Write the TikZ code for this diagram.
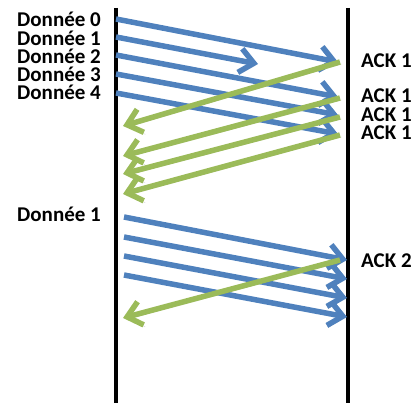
\documentclass[tikz,border=0pt]{standalone}
\usepackage{fontspec}
\setmainfont{Carlito}
\usetikzlibrary{arrows.meta}

\definecolor{dataBlue}{HTML}{4F81BD}
\definecolor{ackGreen}{HTML}{9BBB59}

\begin{document}
\begin{tikzpicture}[x=1pt, y=-1pt,
	tag/.style={font=\fontsize{21}{18.3}\selectfont\bfseries, inner sep=0pt},
	msg/.style={line width=5.5pt, arrows={-Straight Barb[length=14pt,width=24pt]},
		preaction={draw=black, opacity=0.15, transform canvas={shift={(1.5pt,-2pt)}}}},
	data/.style={msg, draw=dataBlue},
	ack/.style={msg, draw=ackGreen}]
	\useasboundingbox (0,0) rectangle (412,403);

	% sender and receiver
	\coordinate (S top) at (116,8);
	\coordinate (S bot) at (116,403);
	\coordinate (R top) at (348,8);
	\coordinate (R bot) at (348,403);
	\draw[line width=4pt] (S top) -- (S bot);
	\draw[line width=4pt] (R top) -- (R bot);

	% base anchor sits on the last line
	\node[tag, align=right, anchor=base east] (window) at (101,100)
		{Donnée 0\\Donnée 1\\Donnée 2\\Donnée 3\\Donnée 4};
	\node[tag, anchor=base east] (resend) at (101,222) {Donnée 1};

	\node[tag, anchor=base west] (A1) at (361,68) {ACK 1};
	\node[tag, align=left, anchor=base west] (dupacks) at (361,139.5)
		{ACK 1\\ACK 1\\ACK 1};
	\node[tag, anchor=base west] (A2) at (361,268) {ACK 2};

	% first window
	\coordinate (s0) at (116,19);  \coordinate (r0) at (338,62);
	\coordinate (s1) at (116,37);  \coordinate (lost) at (258,64);
	\coordinate (s2) at (116,55);  \coordinate (r2) at (338,97);
	\coordinate (s3) at (116,74);  \coordinate (r3) at (338,115);
	\coordinate (s4) at (116,93);  \coordinate (r4) at (338,134);

	\draw[data] (s0) -- (r0);
	\draw[data] (s1) -- (lost);
	\draw[data] (s2) -- (r2);
	\draw[data] (s3) -- (r3);
	\draw[data] (s4) -- (r4);

	\coordinate (a0) at (340,62);   \coordinate (b0) at (123,126);
	\coordinate (a2) at (340,98);   \coordinate (b2) at (123,156);
	\coordinate (a3) at (340,117);  \coordinate (b3) at (123,174);
	\coordinate (a4) at (340,135);  \coordinate (b4) at (123,194);

	\draw[ack] (a0) -- (b0);
	\draw[ack] (a2) -- (b2);
	\draw[ack] (a3) -- (b3);
	\draw[ack] (a4) -- (b4);

	% retransmission
	\coordinate (t1) at (124,217);  \coordinate (u1) at (347,260);
	\coordinate (t2) at (124,237);  \coordinate (u2) at (347,279);
	\coordinate (t3) at (124,256);  \coordinate (u3) at (347,298);
	\coordinate (t4) at (124,275);  \coordinate (u4) at (347,317);

	\draw[data] (t1) -- (u1);
	\draw[data] (t2) -- (u2);
	\draw[data] (t3) -- (u3);
	\draw[data] (t4) -- (u4);

	\coordinate (a5) at (340,260);  \coordinate (b5) at (123,318);
	\draw[ack] (a5) -- (b5);
\end{tikzpicture}
\end{document}
